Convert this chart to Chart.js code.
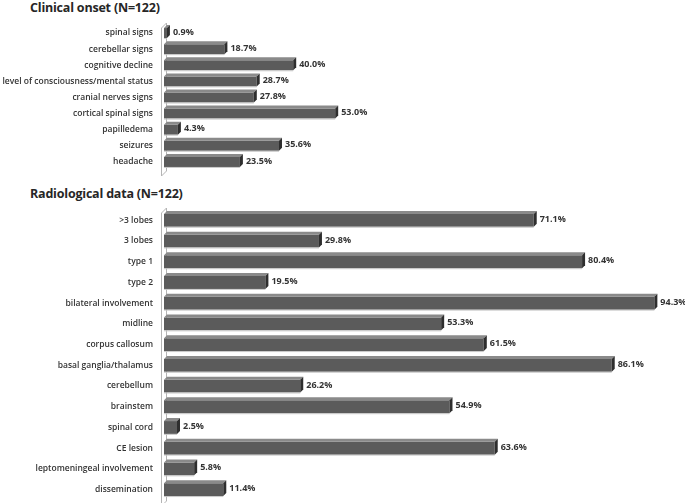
<!DOCTYPE html>
<html>
<head>
<meta charset="utf-8">
<script src="https://cdn.jsdelivr.net/npm/chart.js@4.4.1/dist/chart.umd.min.js"></script>
<style>
  html, body { margin: 0; padding: 0; background: #ffffff; }
  #wrap { position: relative; width: 685px; height: 503px; overflow: hidden; }
  .ttl { position: absolute; left: 30px; font-family: "Open Sans", sans-serif; font-weight: 700; font-size: 12.5px; letter-spacing: -0.2px; color: #262626; white-space: nowrap; }
  canvas { position: absolute; left: 0; }
</style>
</head>
<body>
<div id="wrap">
  <div class="ttl" id="t1" style="top:-1px;">Clinical onset (N=122)</div>
  <div class="ttl" id="t2" style="top:185px;">Radiological data (N=122)</div>
  <canvas id="c1" width="685" height="180" style="top:0;width:685px;height:180px;"></canvas>
  <canvas id="c2" width="685" height="323" style="top:180px;width:685px;height:323px;"></canvas>
</div>
<script>
const onsetCategories = ['spinal signs', 'cerebellar signs', 'cognitive decline', 'level of consciousness/mental status', 'cranial nerves signs', 'cortical spinal signs', 'papilledema', 'seizures', 'headache'];
const onsetValues = [0.9, 18.7, 40.0, 28.7, 27.8, 53.0, 4.3, 35.6, 23.5];

const radioCategories = ['>3 lobes', '3 lobes', 'type 1', 'type 2', 'bilateral involvement', 'midline', 'corpus callosum', 'basal ganglia/thalamus', 'cerebellum', 'brainstem', 'spinal cord', 'CE lesion', 'leptomeningeal involvement', 'dissemination'];
const radioValues = [71.1, 29.8, 80.4, 19.5, 94.3, 53.3, 61.5, 86.1, 26.2, 54.9, 2.5, 63.6, 5.8, 11.4];

const DEPTH = 3;

const bar3d = {
  id: 'bar3d',
  beforeDatasetsDraw(chart) {
    const ctx = chart.ctx, a = chart.chartArea;
    const fx = a.left - 3, bx = a.left + 2;
    ctx.save();
    ctx.fillStyle = '#ffffff';
    ctx.strokeStyle = '#b4b4b4';
    ctx.lineWidth = 1;
    ctx.beginPath();
    ctx.moveTo(fx + 0.5, a.top + 3);
    ctx.lineTo(bx + 0.5, a.top - 2);
    ctx.lineTo(bx + 0.5, a.bottom + 1);
    ctx.lineTo(fx + 0.5, a.bottom + 6);
    ctx.closePath();
    ctx.fill();
    ctx.stroke();
    ctx.restore();
  },
  afterDatasetsDraw(chart) {
    const ctx = chart.ctx;
    const meta = chart.getDatasetMeta(0);
    const data = chart.data.datasets[0].data;
    ctx.save();
    meta.data.forEach((el, i) => {
      const p = el.getProps(['x', 'y', 'base', 'height'], true);
      const top = p.y - p.height / 2, bot = p.y + p.height / 2;
      const x = p.x, b = p.base, d = DEPTH;
      ctx.fillStyle = '#8a8a8a';
      ctx.beginPath();
      ctx.moveTo(b, top);
      ctx.lineTo(b + d, top - d);
      ctx.lineTo(x + d, top - d);
      ctx.lineTo(x, top);
      ctx.closePath();
      ctx.fill();
      ctx.fillStyle = '#2e2e2e';
      ctx.beginPath();
      ctx.moveTo(x, top);
      ctx.lineTo(x + d, top - d);
      ctx.lineTo(x + d, bot - d);
      ctx.lineTo(x, bot);
      ctx.closePath();
      ctx.fill();
      ctx.strokeStyle = '#c8c8c8';
      ctx.lineWidth = 1;
      ctx.beginPath();
      ctx.moveTo(b, bot + 0.5);
      ctx.lineTo(x, bot + 0.5);
      ctx.stroke();
      ctx.fillStyle = '#333333';
      ctx.font = '700 9px "Open Sans", sans-serif';
      ctx.textAlign = 'left';
      ctx.textBaseline = 'middle';
      ctx.fillText(data[i].toFixed(1) + '%', x + d + 3, p.y - 1);
    });
    ctx.restore();
  }
};

function makeChart(id, cats, vals, pad, leftW) {
  return new Chart(document.getElementById(id), {
    type: 'bar',
    data: {
      labels: cats,
      datasets: [{
        data: vals,
        backgroundColor: '#5b5b5b',
        borderWidth: 0,
        barPercentage: 0.62,
        categoryPercentage: 1.0
      }]
    },
    options: {
      indexAxis: 'y',
      responsive: false,
      animation: false,
      devicePixelRatio: 1,
      layout: { padding: pad },
      plugins: { legend: { display: false }, tooltip: { enabled: false }, title: { display: false } },
      scales: {
        x: { display: false, min: 0, max: 100 },
        y: {
          grid: { display: false, drawTicks: false },
          border: { display: false },
          ticks: { color: '#333333', font: { family: '"Open Sans", sans-serif', size: 8.5, weight: '600' }, padding: 11 },
          afterFit(scale) { scale.width = leftW; scale.paddingTop = 0; scale.paddingBottom = 0; }
        }
      }
    },
    plugins: [bar3d]
  });
}

makeChart('c1', onsetCategories, onsetValues, { top: 25, bottom: 10, right: 198, left: 0 }, 164);
makeChart('c2', radioCategories, radioValues, { top: 30, bottom: 3, right: 1, left: 0 }, 164);
</script>
</body>
</html>
